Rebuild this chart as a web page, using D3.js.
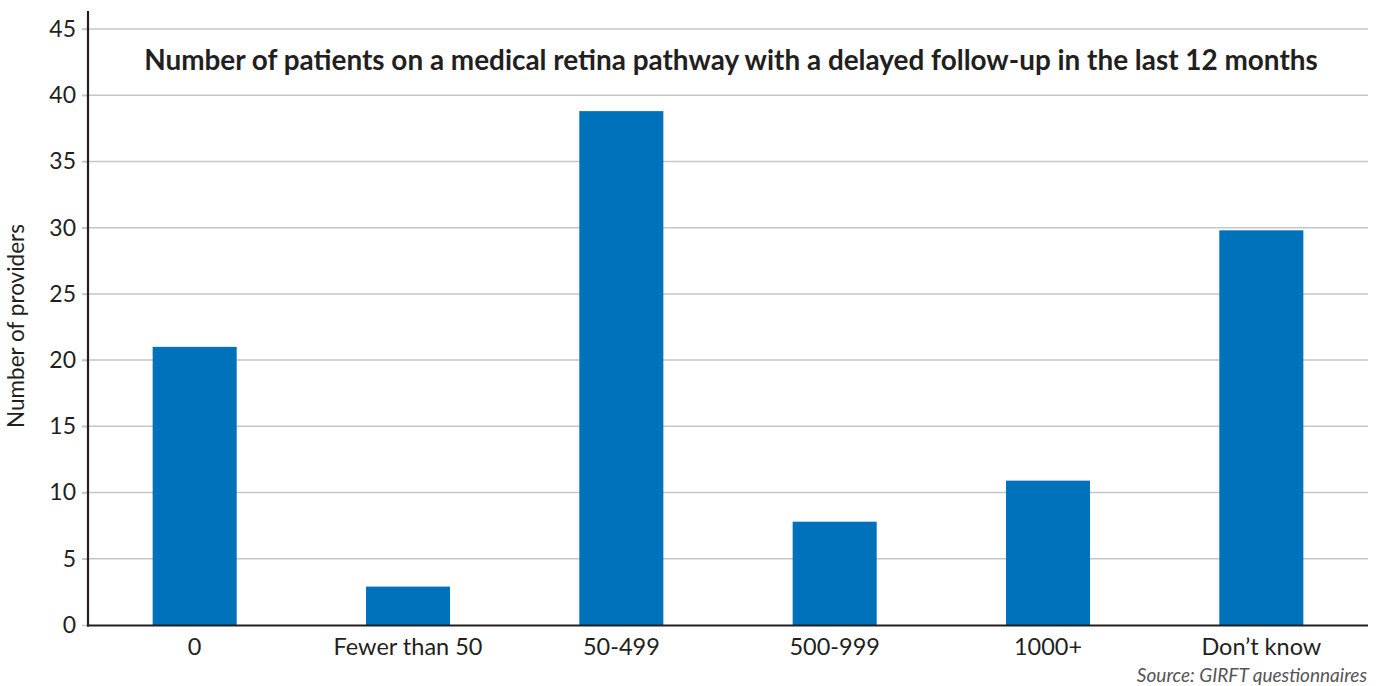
<!DOCTYPE html>
<html><head><meta charset="utf-8">
<script src="https://cdn.jsdelivr.net/npm/d3@7"></script>
<style>body{margin:0;background:#fff;} svg{display:block;font-family:Lato, sans-serif;}</style>
</head><body>
<svg id="c" width="1376" height="686"></svg>
<script>
const categories = ["0", "Fewer than 50", "50-499", "500-999", "1000+", "Don\u2019t know"];
const values = [21, 2.9, 38.8, 7.8, 10.9, 29.8];
const yTicks = [0, 5, 10, 15, 20, 25, 30, 35, 40, 45];
const title = "Number of patients on a medical retina pathway with a delayed follow-up in the last 12 months";
const yTitle = "Number of providers";
const source = "Source: GIRFT questionnaires";

const svg = d3.select("#c");
const L = 88, R = 1368, T = 29, B = 625;
const x = d3.scaleBand().domain(categories).range([L, R]).padding(0);
const y = d3.scaleLinear().domain([0, 45]).range([B, T]);
const bw = x.bandwidth() * 0.394;

// gridlines
svg.append("g").selectAll("line").data(yTicks.slice(1)).join("line")
  .attr("x1", L - 6).attr("x2", R).attr("y1", d => y(d)).attr("y2", d => y(d))
  .attr("stroke", "#c6c6c6").attr("stroke-width", 1.5);

// bars
svg.append("g").selectAll("rect").data(values).join("rect")
  .attr("x", (d, i) => x(categories[i]) + (x.bandwidth() - bw) / 2)
  .attr("width", bw)
  .attr("y", d => y(d)).attr("height", d => B - y(d))
  .attr("fill", "#0071bb");

// y axis
const ya = svg.append("g").attr("transform", `translate(${L},0)`)
  .call(d3.axisLeft(y).tickValues(yTicks).tickSize(6).tickPadding(6));
ya.select(".domain").remove();
ya.selectAll(".tick line").attr("stroke", "#c6c6c6").attr("stroke-width", 1.5);
ya.selectAll(".tick text").attr("font-size", 23).attr("fill", "#231f20").attr("font-family", "Lato");
svg.append("line").attr("x1", L).attr("x2", L).attr("y1", 11).attr("y2", B + 1.5)
  .attr("stroke", "#231f20").attr("stroke-width", 2.2);

// x axis
const xa = svg.append("g").attr("transform", `translate(0,${B})`)
  .call(d3.axisBottom(x).tickSize(0).tickPadding(13));
xa.select(".domain").remove();
xa.selectAll(".tick text").attr("font-size", 23.5).attr("fill", "#231f20").attr("font-family", "Lato");
svg.append("line").attr("x1", L - 1).attr("x2", R).attr("y1", B + 0.5).attr("y2", B + 0.5)
  .attr("stroke", "#231f20").attr("stroke-width", 2.2);

// title
svg.append("text").attr("x", 731).attr("y", 70).attr("text-anchor", "middle")
  .attr("font-size", 27.9).attr("font-weight", "bold").attr("fill", "#231f20").text(title);

// y title
svg.append("text").attr("transform", `translate(24,326) rotate(-90)`).attr("text-anchor", "middle")
  .attr("font-size", 22.5).attr("fill", "#231f20").text(yTitle);

// source
svg.append("text").attr("x", 1367).attr("y", 682).attr("text-anchor", "end")
  .attr("font-size", 19).attr("font-style", "italic").attr("fill", "#555").text(source);
</script>
</body></html>
